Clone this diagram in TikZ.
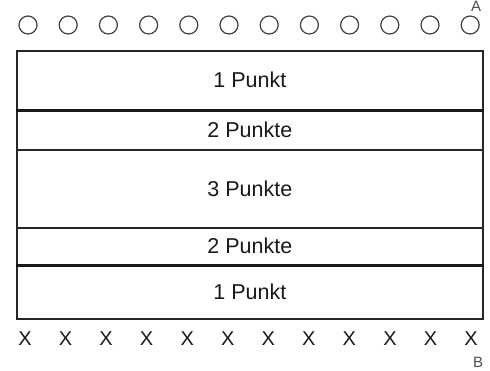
\documentclass[tikz,border=0pt]{standalone}
\usepackage{fontspec}
\setmainfont{Liberation Sans}
\begin{document}
\begin{tikzpicture}[x=1pt,y=-1pt,
  band/.style={draw=black!85,line width=1.6pt,rectangle,minimum width=466pt,inner sep=0pt,anchor=north west,
     font=\fontsize{21.5}{25}\selectfont,text=black!90},
  hole/.style={draw=black!75,line width=1.2pt,circle,minimum size=18pt,inner sep=0pt},
  cross/.style={inner sep=0pt,font=\fontsize{20}{22}\selectfont,text=black!90},
  endlabel/.style={inner sep=0pt,font=\fontsize{15}{17}\selectfont,text=black!70}]
\useasboundingbox (0,0) rectangle (490,370);
\node[band,minimum height=59pt] (b1) at (16,50) {1 Punkt};
\node[band,minimum height=40pt] (b2) at (16,109) {2 Punkte};
\node[band,minimum height=78pt] (b3) at (16,149) {3 Punkte};
\node[band,minimum height=37pt] (b4) at (16,227) {2 Punkte};
\node[band,minimum height=54pt] (b5) at (16,264) {1 Punkt};
\draw[line width=2.3pt,black!90] (b1.south west) -- (b1.south east);
\draw[line width=2.3pt,black!90] (b4.south west) -- (b4.south east);
\foreach \i in {0,...,11} {
  \node[hole] (c\i) at ({28+40.2*\i},25) {};
  \node[cross] (x\i) at ({25+40.55*\i},339) {X};
}
\node[endlabel] (A) at (476,6.5) {A};
\node[endlabel] (B) at (478,362) {B};
\end{tikzpicture}
\end{document}
